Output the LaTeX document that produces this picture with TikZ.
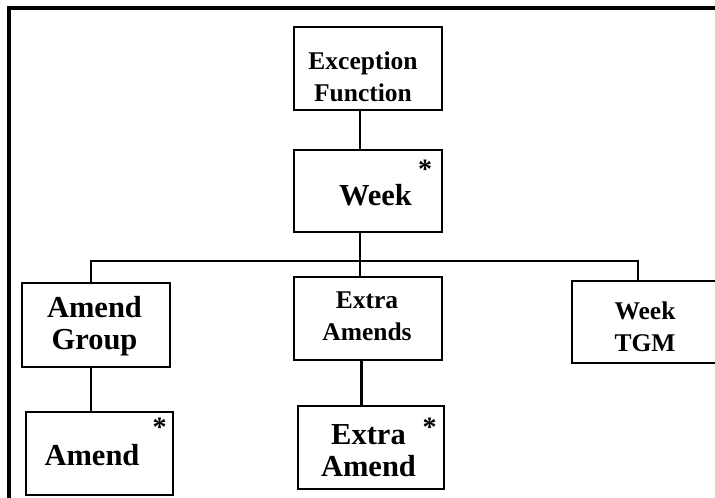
\documentclass[tikz,border=0pt]{standalone}
\usepackage{fontspec}
\setmainfont{Liberation Serif}
\begin{document}
\begin{tikzpicture}[x=1pt, y=-1pt,
  box/.style={draw, line width=2.3pt, rectangle, inner sep=0pt},
  small/.style={font=\bfseries\fontsize{25.5}{31.5}\selectfont, align=center, inner sep=0pt, anchor=north},
  large/.style={font=\bfseries\fontsize{30.5}{32.5}\selectfont, align=center, inner sep=0pt, anchor=north},
  star/.style={font=\bfseries\fontsize{28}{28}\selectfont, inner sep=0pt, anchor=north},
  link/.style={line width=2.3pt}]
\useasboundingbox (0,0) rectangle (715,498);
\clip (0,0) rectangle (715,498);

% outer frame
\draw[line width=4pt] (9.2,520) -- (9.2,8) -- (740,8);

% boxes
\node[box, minimum width=148pt, minimum height=83pt] (exc)   at (368,68.5)  {};
\node[box, minimum width=148pt, minimum height=82pt] (week)  at (368,191)   {};
\node[box, minimum width=148pt, minimum height=84pt] (agrp)  at (96,325)    {};
\node[box, minimum width=147pt, minimum height=83pt] (amend) at (99.5,453.5) {};
\node[box, minimum width=148pt, minimum height=83pt] (xtras) at (368,318.5) {};
\node[box, minimum width=146pt, minimum height=83pt] (xtra)  at (371,447.5) {};
\node[box, minimum width=146pt, minimum height=82pt] (wtgm)  at (645,322)   {};

% labels
\node[small] (exc-t)   at (363,52)  {Exception\\Function};
\node[large] (week-t)  at (375.5,184) {Week};
\node[large] (agrp-t)  at (94.5,296) {Amend\\Group};
\node[large] (amend-t) at (92,444)  {Amend};
\node[small] (xtras-t) at (367,292) {Extra\\Amends};
\node[large] (xtra-t)  at (368.5,424) {Extra\\Amend};
\node[small] (wtgm-t)  at (645,302) {Week\\TGM};

% repeated-element marks
\node[star] (week-s)  at (425,160) {*};
\node[star] (amend-s) at (159.5,418) {*};
\node[star] (xtra-s)  at (429.5,418) {*};

% tree connectors
\coordinate (bus) at (360,261);
\draw[link] ([xshift=-8pt]exc.south) -- ([xshift=-8pt]week.north);
\draw[link] ([xshift=-8pt]week.south) -- (bus);
\draw[link] ([xshift=-5pt]agrp.north) |- (bus) -| ([xshift=-7pt]wtgm.north);
\draw[link] (bus) -- ([xshift=-8pt]xtras.north);
\draw[link] ([xshift=-5pt]agrp.south) -- ([xshift=-8.5pt]amend.north);
\draw[link] ([xshift=-6.5pt]xtras.south) -- ([xshift=-9.5pt]xtra.north);
\end{tikzpicture}
\end{document}
